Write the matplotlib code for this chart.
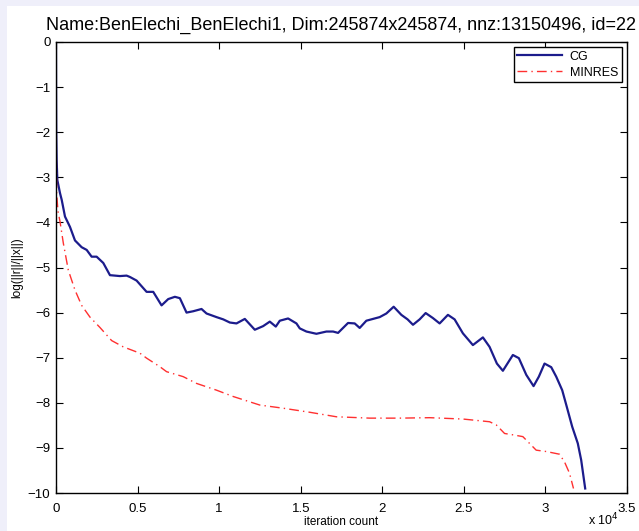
import matplotlib
matplotlib.use("Agg")
import matplotlib.pyplot as plt
from matplotlib.patches import Rectangle
from matplotlib.ticker import FuncFormatter, MultipleLocator

plt.rcParams["font.family"] = ["Liberation Sans", "DejaVu Sans"]

TITLE = "Name:BenElechi_BenElechi1, Dim:245874x245874, nnz:13150496, id=22"

# CG residual history (iteration, log10 relative residual)
cg_iter = [0, 5, 15, 40, 82, 245, 350, 551, 857, 1163, 1572, 1880, 2184, 2490,
           2899, 3307, 3919, 4328, 4532, 4940, 5553, 5960, 6470, 6879, 7287,
           7593, 8001, 8410, 8920, 9228, 9839, 10250, 10655, 11063, 11574,
           11880, 12186, 12696, 13105, 13472, 13717, 14227, 14737, 14942,
           15350, 15963, 16575, 16983, 17289, 17901, 18309, 18615, 19023,
           19840, 20248, 20698, 21168, 21550, 21882, 22290, 22658, 23100,
           23515, 24023, 24433, 24942, 25554, 26167, 26576, 27025, 27392,
           28004, 28371, 28826, 29272, 29597, 29945, 30355, 30661, 31028,
           31310, 31641, 31984, 32192, 32437]
cg_res = [0.0, -1.0, -2.0, -2.62, -3.06, -3.35, -3.50, -3.87, -4.10, -4.40,
          -4.55, -4.61, -4.76, -4.76, -4.90, -5.17, -5.19, -5.18, -5.21,
          -5.29, -5.54, -5.54, -5.84, -5.70, -5.65, -5.68, -6.00, -5.97,
          -5.92, -6.02, -6.10, -6.15, -6.22, -6.24, -6.14, -6.26, -6.38,
          -6.30, -6.20, -6.31, -6.18, -6.13, -6.24, -6.35, -6.42, -6.47,
          -6.42, -6.42, -6.45, -6.23, -6.24, -6.34, -6.18, -6.10, -6.02,
          -5.87, -6.05, -6.15, -6.27, -6.15, -6.01, -6.12, -6.24, -6.05,
          -6.15, -6.46, -6.72, -6.55, -6.76, -7.13, -7.29, -6.94, -7.01,
          -7.38, -7.63, -7.42, -7.13, -7.21, -7.42, -7.72, -8.09, -8.53,
          -8.90, -9.27, -9.90]

# MINRES residual history
mr_iter = [0, 5, 15, 40, 120, 245, 449, 755, 1163, 1572, 2082, 2694, 3409,
           4124, 5144, 5553, 6369, 6777, 7797, 8613, 9839, 10857, 12492,
           13921, 15554, 17188, 19228, 21065, 22902, 24942, 26576, 26985,
           27495, 28004, 28616, 29025, 29433, 30046, 30863, 31169, 31475,
           31720]
mr_res = [0.0, -1.2, -2.4, -3.36, -3.75, -3.98, -4.46, -5.06, -5.50, -5.84,
          -6.10, -6.33, -6.62, -6.76, -6.90, -7.01, -7.20, -7.31, -7.42,
          -7.57, -7.72, -7.86, -8.05, -8.12, -8.21, -8.31, -8.34, -8.34,
          -8.33, -8.36, -8.42, -8.49, -8.68, -8.71, -8.75, -8.90, -9.05,
          -9.08, -9.14, -9.31, -9.56, -9.90]

fig = plt.figure(figsize=(6.39, 5.31), dpi=100, facecolor="#efeffa")
fig.patches.append(Rectangle((7 / 639, 0), 1, 525 / 531, transform=fig.transFigure,
                             facecolor="white", edgecolor="none", zorder=-1))

ax = fig.add_axes([56 / 639, 38 / 531, 571 / 639, 451 / 531])
ax.plot(cg_iter, cg_res, color="#1c1c8c", lw=1.6, label="CG")
ax.plot(mr_iter, mr_res, color="#ff3030", lw=1.0, ls=(0, (7, 3, 1, 3)), label="MINRES")

ax.set_xlim(0, 35000)
ax.set_ylim(-10, 0)
ax.xaxis.set_major_locator(MultipleLocator(5000))
ax.yaxis.set_major_locator(MultipleLocator(1))
ax.xaxis.set_major_formatter(FuncFormatter(lambda v, p: f"{v / 1e4:g}"))
ax.tick_params(direction="in", length=5, width=0.8, top=True, right=True,
               labelsize=9.5, pad=4)
ax.tick_params(axis="x", pad=7)
for s in ax.spines.values():
    s.set_linewidth(1.0)

ax.set_title(TITLE, fontsize=13, pad=9)
ax.set_xlabel("iteration count", fontsize=8.5, labelpad=1)
ax.set_ylabel("log(||r||/||x||)", fontsize=8.5, labelpad=3)
fig.text(603 / 639, 6 / 531, r"x 10$^4$", fontsize=9, ha="center", va="baseline")

leg = ax.legend(loc="upper right", fontsize=9, fancybox=False, framealpha=1,
                edgecolor="black", borderaxespad=0.4, handlelength=3.6,
                borderpad=0.3, labelspacing=0.3, handletextpad=0.6)
leg.get_frame().set_linewidth(1.0)

fig.savefig("out.png", dpi=100, facecolor=fig.get_facecolor())
